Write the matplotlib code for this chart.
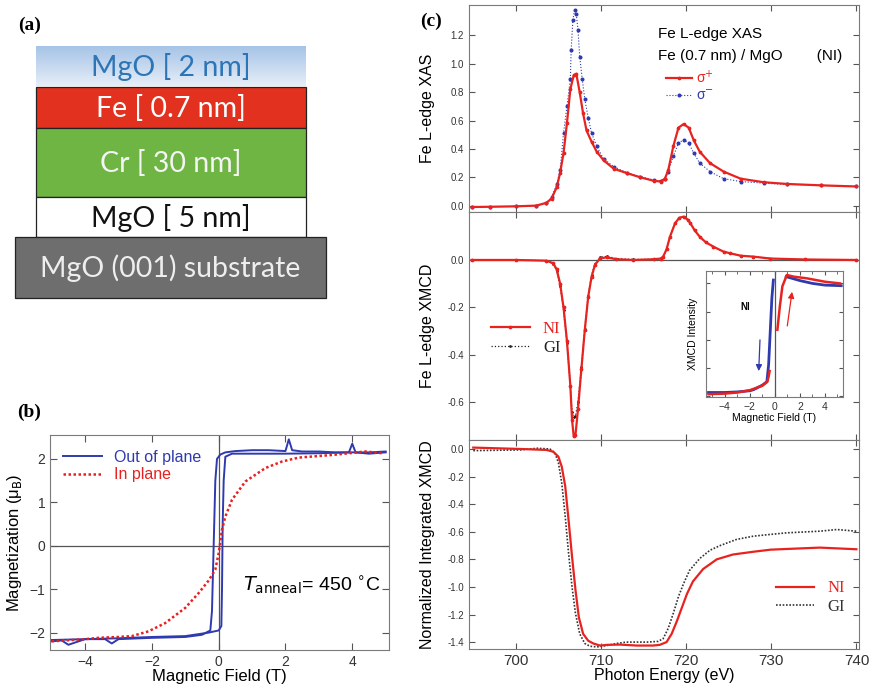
import matplotlib
matplotlib.use('Agg')
import matplotlib.pyplot as plt
import numpy as np
from matplotlib.patches import Rectangle
from matplotlib.colors import LinearSegmentedColormap

plt.rcParams['font.family'] = ['Liberation Sans', 'DejaVu Sans']
plt.rcParams['xtick.direction'] = 'in'
plt.rcParams['ytick.direction'] = 'in'
plt.rcParams['axes.edgecolor'] = '#7a7a7a'
plt.rcParams['xtick.color'] = '#555555'
plt.rcParams['ytick.color'] = '#555555'
plt.rcParams['xtick.labelcolor'] = '#333333'
plt.rcParams['ytick.labelcolor'] = '#333333'

W, H = 874, 693
RED, BLUE = "#e8231f", "#2f3aae"

# ---------------- (a) layer stack ----------------
layer_names = ["MgO [ 2 nm]", "Fe [ 0.7 nm]", "Cr [ 30 nm]", "MgO [ 5 nm]", "MgO (001) substrate"]
layer_fill = ["gradient", "#e2321f", "#6fb543", "white", "#6e6e6e"]
layer_text = ["#2e75b6", "white", "#f4f4f4", "#111111", "#eeeeee"]

# ---------------- (b) hysteresis ----------------
oop_down_H = [5.0, 4.5, 4.0, 3.5, 3.0, 2.5, 2.2, 2.1, 2.0, 1.5, 1.0, 0.5, 0.2, 0.05, -0.05, -0.1, -0.15,
              -0.2, -0.25, -0.5, -1.0, -2.0, -3.0, -3.2, -3.4, -4.0, -4.5, -4.7, -5.0]
oop_down_M = [2.17, 2.15, 2.15, 2.15, 2.17, 2.17, 2.2, 2.45, 2.18, 2.2, 2.2, 2.18, 2.15, 2.1, 2.0, 1.5, 0.0,
              -1.5, -1.95, -2.05, -2.1, -2.12, -2.15, -2.25, -2.15, -2.15, -2.28, -2.18, -2.2]
oop_up_H = [-5.0, -4.0, -3.0, -2.0, -1.0, -0.3, 0.0, 0.08, 0.1, 0.12, 0.15, 0.2, 0.4, 1.0, 2.0, 3.0,
            3.9, 4.0, 4.1, 4.5, 5.0]
oop_up_M = [-2.17, -2.15, -2.13, -2.1, -2.08, -2.0, -1.95, -1.85, -1.0, 0.5, 1.5, 2.05, 2.12, 2.12, 2.12,
            2.13, 2.15, 2.35, 2.15, 2.12, 2.15]
ip_H = [-5.0, -4.0, -3.6, -3.0, -2.6, -2.1, -1.6, -1.0, -0.6, -0.3, -0.1, 0.0, 0.1, 0.2, 0.4, 0.8,
        1.4, 1.9, 2.4, 3.4, 4.4, 4.9]
ip_M = [-2.2, -2.15, -2.12, -2.1, -2.08, -1.97, -1.78, -1.43, -1.09, -0.8, -0.55, -0.17, 0.37, 0.67,
        1.06, 1.48, 1.79, 1.94, 2.03, 2.09, 2.17, 2.13]

# ---------------- (c) XAS ----------------
xas_E_red = [694.8, 697, 700, 702.4, 703.6, 704.2, 704.8, 705.2, 705.6, 706.0, 706.4, 706.8, 707.1, 707.5,
             707.9, 708.3, 708.9, 709.5, 710.3, 711.5, 713.0, 714.6, 716.2, 717.0, 717.5, 717.9, 718.5,
             719.1, 719.7, 720.3, 720.9, 721.6, 722.8, 724.4, 726.4, 729.1, 731.8, 735.8, 740.0]
xas_red = [-0.01, -0.008, -0.005, 0.0, 0.02, 0.05, 0.13, 0.23, 0.37, 0.58, 0.82, 0.92, 0.93, 0.80,
           0.65, 0.53, 0.45, 0.38, 0.32, 0.26, 0.23, 0.20, 0.175, 0.17, 0.19, 0.25, 0.42,
           0.55, 0.575, 0.55, 0.46, 0.38, 0.30, 0.24, 0.19, 0.165, 0.153, 0.143, 0.135]
xas_E_blue = [694.8, 697, 700, 702.4, 703.6, 704.2, 704.8, 705.2, 705.6, 706.0, 706.4, 706.5, 706.7,
              706.9, 707.1, 707.3, 707.5, 707.8, 708.1, 708.5, 708.9, 709.5, 710.3, 711.5, 713.0, 714.6,
              716.2, 717.0, 717.5, 717.9, 718.5, 719.1, 719.7, 720.3, 720.9, 721.6, 722.8, 724.4, 726.4,
              729.1, 731.8, 735.8, 740.0]
xas_blue = [-0.01, -0.008, -0.005, 0.0, 0.02, 0.06, 0.15, 0.25, 0.51, 0.70, 0.89, 1.10, 1.31,
            1.38, 1.35, 1.24, 1.05, 0.89, 0.75, 0.62, 0.51, 0.42, 0.33, 0.275, 0.233, 0.205,
            0.18, 0.175, 0.19, 0.24, 0.35, 0.44, 0.465, 0.44, 0.37, 0.30, 0.24, 0.19, 0.17,
            0.158, 0.15, 0.143, 0.135]

# ---------------- (c) XMCD ----------------
xmcd_E = [694.8, 700, 703.6, 704.4, 704.8, 705.2, 705.6, 706.0, 706.4, 706.6, 706.8, 707.0, 707.3, 707.7,
          708.1, 708.5, 708.9, 709.3, 709.9, 710.7, 711.8, 713.8, 716.2, 717.0, 717.3, 717.7, 718.1,
          718.7, 719.2, 719.7, 720.2, 720.5, 721.0, 721.6, 722.3, 723.2, 724.4, 725.2, 726.4, 727.9,
          729.9, 734.0, 740.0]
xmcd_NI = [0.0, 0.0, -0.003, -0.014, -0.04, -0.10, -0.20, -0.34, -0.53, -0.675, -0.745, -0.74, -0.63, -0.46,
           -0.295, -0.155, -0.07, -0.02, 0.007, 0.011, 0.003, 0.0, 0.003, 0.006, 0.014, 0.045, 0.098,
           0.155, 0.178, 0.183, 0.17, 0.155, 0.125, 0.098, 0.075, 0.056, 0.035, 0.028, 0.018, 0.014,
           0.006, 0.002, 0.0]
xmcd_GI = [0.0, 0.0, -0.003, -0.016, -0.045, -0.11, -0.21, -0.35, -0.53, -0.64, -0.665, -0.66, -0.60, -0.45,
           -0.29, -0.15, -0.065, -0.015, 0.012, 0.015, 0.006, 0.002, 0.003, 0.006, 0.014, 0.045, 0.098,
           0.155, 0.178, 0.183, 0.17, 0.155, 0.125, 0.098, 0.075, 0.056, 0.035, 0.028, 0.018, 0.014,
           0.006, 0.002, 0.0]

# inset: XMCD vs field
ins_blue_H1 = [-5.3, -4.0, -3.0, -2.0, -1.7, -1.0, -0.64, -0.5, -0.24, -0.12]
ins_blue_M1 = [-0.93, -0.93, -0.92, -0.9, -0.88, -0.8, -0.74, -0.44, 0.74, 1.06]
ins_blue_H2 = [0.9, 2.0, 3.0, 4.0, 5.3]
ins_blue_M2 = [1.12, 1.05, 1.0, 0.97, 0.96]
ins_red_H1 = [-5.3, -4.0, -3.0, -2.0, -1.0, -0.6, -0.5, -0.42]
ins_red_M1 = [-0.96, -0.95, -0.93, -0.89, -0.81, -0.74, -0.65, -0.55]
ins_red_H2 = [0.2, 0.4, 0.6, 0.96, 1.5, 2.56, 4.0, 5.2]
ins_red_M2 = [0.18, 0.6, 0.95, 1.15, 1.12, 1.09, 1.03, 1.0]

# ---------------- (c) integrated XMCD ----------------
int_E_NI = [695.0, 700.5, 703.6, 704.4, 705.0, 705.4, 705.8, 706.2, 706.6, 707.0, 707.4, 707.9, 708.5,
            709.1, 709.9, 710.7, 712.2, 714.2, 716.1, 716.9, 717.7, 718.3, 718.9, 719.5, 720.1, 720.8,
            722.0, 723.6, 725.5, 727.9, 729.9, 731.8, 735.7, 740.0]
int_NI = [0.01, 0.0, -0.007, -0.02, -0.056, -0.13, -0.27, -0.52, -0.78, -1.02, -1.22, -1.34, -1.39,
          -1.41, -1.425, -1.42, -1.418, -1.425, -1.425, -1.42, -1.40, -1.34, -1.25, -1.15, -1.05, -0.96,
          -0.87, -0.80, -0.765, -0.745, -0.73, -0.725, -0.715, -0.727]
int_E_GI = [695.0, 700.5, 702.5, 704.0, 704.6, 705.0, 705.4, 705.8, 706.2, 706.6, 707.0, 707.5, 708.1,
            708.7, 709.5, 710.7, 711.8, 713.0, 715.4, 716.7, 717.3, 717.9, 718.5, 719.1, 719.7, 720.4,
            721.6, 722.8, 724.0, 725.9, 727.9, 729.8, 731.8, 735.7, 737.7, 740.0]
int_GI = [-0.012, -0.007, 0.005, 0.0, -0.03, -0.10, -0.25, -0.49, -0.76, -1.0, -1.19, -1.34, -1.41,
          -1.43, -1.435, -1.425, -1.41, -1.40, -1.40, -1.395, -1.375, -1.30, -1.19, -1.07, -0.976, -0.88,
          -0.794, -0.734, -0.70, -0.656, -0.632, -0.62, -0.608, -0.596, -0.584, -0.596]


def box(px0, py0, px1, py1):
    return [px0 / W, 1 - py1 / H, (px1 - px0) / W, (py1 - py0) / H]


fig = plt.figure(figsize=(W / 100, H / 100), dpi=100)

# ---- (a) ----
aa = fig.add_axes([0, 0, 1, 1], zorder=-1)
aa.set_xlim(0, W); aa.set_ylim(H, 0); aa.axis('off')
rects = [(36, 46, 306, 86), (36, 87, 306, 128), (36, 128, 306, 197), (36, 197, 306, 237), (15, 237, 326, 298)]
cm = LinearSegmentedColormap.from_list("mgo", ["#a6c4e7", "#e6eef8"])
for (x0, y0, x1, y1), name, fc, tc in zip(rects, layer_names, layer_fill, layer_text):
    if fc == "gradient":
        aa.imshow(np.linspace(0, 1, 50)[:, None], extent=[x0, x1, y1, y0], aspect='auto', cmap=cm)
    else:
        aa.add_patch(Rectangle((x0, y0), x1 - x0, y1 - y0, facecolor=fc, edgecolor="#222222", lw=0.9))
    aa.text((x0 + x1) / 2, (y0 + y1) / 2 + 1, name, ha="center", va="center", color=tc,
            fontsize=20.5, family=["Lato", "DejaVu Sans"])
aa.set_xlim(0, W); aa.set_ylim(H, 0)
for lab, (px, py) in zip(["(a)", "(b)", "(c)"], [(30, 25), (29, 412), (431, 21)]):
    aa.text(px, py, lab, ha="center", va="center", fontsize=14, fontweight="bold",
            family=["Liberation Serif", "DejaVu Serif"])

# ---- (b) ----
ab = fig.add_axes(box(50, 435, 389, 650))
ab.axhline(0, color="#555555", lw=0.9)
ab.axvline(0, color="#555555", lw=0.9)
ab.plot(oop_down_H, oop_down_M, color=BLUE, lw=1.4, label="Out of plane")
ab.plot(oop_up_H, oop_up_M, color=BLUE, lw=1.4)
ab.plot(ip_H, ip_M, color="#e82020", lw=1.8, ls=(0, (1, 1)), label="In plane")
ab.set_xlim(-5.05, 5.1); ab.set_ylim(-2.4, 2.55)
ab.set_xticks([-4, -2, 0, 2, 4]); ab.set_yticks([-2, -1, 0, 1, 2])
ab.tick_params(top=True, right=True, labelsize=10, length=5)
ab.set_xlabel("Magnetic Field (T)", fontsize=12, labelpad=0)
ab.set_ylabel("Magnetization (μ$_{\\rm B}$)", fontsize=12, labelpad=4)
ab.legend(loc="upper left", bbox_to_anchor=(0.02, 0.96), frameon=False, fontsize=11.5,
          labelcolor="linecolor", handlelength=2.4, labelspacing=0.15, borderaxespad=0)
ab.text(0.57, 0.30, r"$T_{\rm anneal}$= 450 $^{\circ}$C", transform=ab.transAxes, fontsize=14,
        va="center")

# ---- (c) top: XAS ----
c1 = fig.add_axes(box(469, 5, 859, 212))
c1.plot(xas_E_blue, xas_blue, color=BLUE, lw=0.8, ls=":", marker="o", ms=1.9, label="σ$^{-}$")
c1.plot(xas_E_red, xas_red, color=RED, lw=1.6, marker="o", ms=1.7, label="σ$^{+}$")
c1.set_ylim(-0.045, 1.415)
c1.set_yticks(np.arange(0, 1.3, 0.2))
c1.yaxis.set_major_formatter(matplotlib.ticker.FormatStrFormatter("%.1f"))
c1.set_ylabel("Fe L-edge XAS", fontsize=11.5)
h, l = c1.get_legend_handles_labels()
c1.legend(h[::-1], l[::-1], loc="upper left", bbox_to_anchor=(0.49, 0.72), frameon=False, fontsize=10,
          labelcolor="linecolor", handlelength=1.9, handletextpad=0.3, labelspacing=0.2, borderaxespad=0)
c1.text(0.485, 0.86, "Fe L-edge XAS", transform=c1.transAxes, fontsize=11, va="center")
c1.text(0.485, 0.755, "Fe (0.7 nm) / MgO        (NI)", transform=c1.transAxes, fontsize=11, va="center")

# ---- (c) middle: XMCD ----
c2 = fig.add_axes(box(469, 212, 859, 440))
c2.axhline(0, color="#555555", lw=0.9)
c2.plot(xmcd_E, xmcd_GI, color="#222222", lw=0.9, ls=":", marker=".", ms=2.0, label="GI")
c2.plot(xmcd_E, xmcd_NI, color=RED, lw=1.6, marker="o", ms=1.7, label="NI")
c2.set_ylim(-0.76, 0.2025)
c2.set_yticks([0.0, -0.2, -0.4, -0.6])
c2.yaxis.set_major_formatter(matplotlib.ticker.FormatStrFormatter("%.1f"))
c2.set_ylabel("Fe L-edge XMCD", fontsize=11.5)
h, l = c2.get_legend_handles_labels()
c2.legend(h[::-1], l[::-1], loc="upper left", bbox_to_anchor=(0.04, 0.55), frameon=False,
          labelcolor="linecolor", handlelength=2.3, labelspacing=0.15, borderaxespad=0,
          prop={"family": ["Liberation Serif"], "size": 12})

# ---- (c) bottom: integrated XMCD ----
c3 = fig.add_axes(box(469, 440, 859, 649))
c3.plot(int_E_GI, int_GI, color="#333333", lw=1.2, ls=(0, (1, 1)), label="GI")
c3.plot(int_E_NI, int_NI, color=RED, lw=1.6, label="NI")
c3.set_ylim(-1.45, 0.065)
c3.set_yticks(np.arange(0, -1.5, -0.2))
c3.yaxis.set_major_formatter(matplotlib.ticker.FormatStrFormatter("%.1f"))
c3.set_ylabel("Normalized Integrated XMCD", fontsize=11.5)
c3.set_xlabel("Photon Energy (eV)", fontsize=11.5, labelpad=0)
h, l = c3.get_legend_handles_labels()
c3.legend(h[::-1], l[::-1], loc="upper left", bbox_to_anchor=(0.77, 0.36), frameon=False,
          labelcolor="linecolor", handlelength=2.3, labelspacing=0.15, borderaxespad=0,
          prop={"family": ["Liberation Serif"], "size": 12})

for ax in (c1, c2, c3):
    ax.set_xlim(694.5, 740.3)
    ax.set_xticks([700, 710, 720, 730, 740])
    ax.tick_params(top=True, right=True, length=4)
    ax.tick_params(axis="y", labelsize=7)
    ax.tick_params(axis="x", labelsize=11)
    ax.yaxis.set_label_coords(-0.088, 0.5)
c1.tick_params(labelbottom=False)
c2.tick_params(labelbottom=False)

# ---- inset ----
ci = fig.add_axes(box(706, 271, 843, 397))
ci.axvline(0, color="#555555", lw=0.9)
ci.plot(ins_blue_H1, ins_blue_M1, color=BLUE, lw=2.0)
ci.plot(ins_blue_H2, ins_blue_M2, color=BLUE, lw=2.0)
ci.plot(ins_red_H1, ins_red_M1, color=RED, lw=1.8)
ci.plot(ins_red_H2, ins_red_M2, color=RED, lw=1.8)
ci.annotate("", xy=(-1.3, -0.6), xytext=(-1.18, 0.05),
            arrowprops=dict(arrowstyle="-|>", color=BLUE, lw=0.9, mutation_scale=9))
ci.annotate("", xy=(1.4, 0.9), xytext=(0.96, 0.2),
            arrowprops=dict(arrowstyle="-|>", color=RED, lw=0.9, mutation_scale=9))
ci.text(-2.4, 0.58, "NI", fontsize=7, fontweight="bold", ha="center", va="center")
ci.set_xlim(-5.5, 5.44); ci.set_ylim(-1.01, 1.22)
ci.set_xticks([-4, -2, 0, 2, 4]); ci.set_xticks(range(-5, 6), minor=True)
ci.set_yticks([-1, -0.5, 0, 0.5, 1]); ci.set_yticklabels([])
ci.tick_params(top=True, right=True, labelsize=7.5, length=3)
ci.tick_params(which="minor", top=True, length=2)
ci.set_xlabel("Magnetic Field (T)", fontsize=7.5, labelpad=1)
ci.set_ylabel("XMCD Intensity", fontsize=7.5, labelpad=2)

fig.savefig("out.png", dpi=100)
